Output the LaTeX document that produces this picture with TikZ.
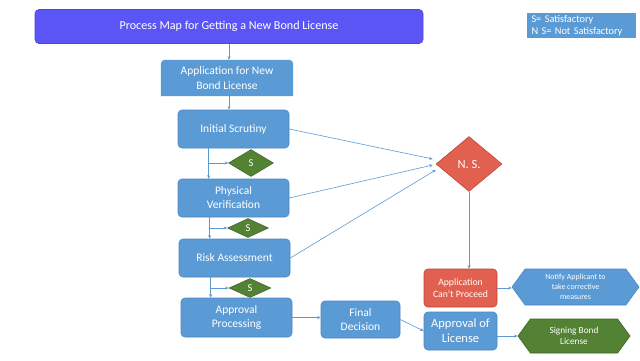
\documentclass[tikz,border=0pt]{standalone}
\usepackage{fontspec}
\setmainfont{Carlito}
\usetikzlibrary{shapes.geometric,shapes.symbols,arrows.meta,backgrounds,calc}
\definecolor{bblue}{HTML}{5B9BD5}
\definecolor{bblueD}{HTML}{4A86C2}
\definecolor{tpurple}{HTML}{5B55F5}
\definecolor{tpurpleD}{HTML}{4B45D8}
\definecolor{sgreen}{HTML}{548235}
\definecolor{sgreenD}{HTML}{3E6326}
\definecolor{nred}{HTML}{E2604F}
\definecolor{nredD}{HTML}{B5473A}
\definecolor{lineblue}{HTML}{5B9BD5}
\begin{document}
\begin{tikzpicture}[x=1pt,y=-1pt,
 box/.style={draw=bblueD, fill=bblue, rounded corners=4pt, text=white, align=center, inner sep=1pt, font=\fontsize{11.5}{14}\selectfont, line width=0.6pt},
 sdia/.style={diamond, draw=sgreenD, fill=sgreen, text=white, inner sep=0pt, font=\fontsize{10.5}{12}\selectfont, line width=0.5pt},
 conn/.style={draw=lineblue, line width=0.6pt, -{Stealth[length=3.5pt,width=3pt]}},
 hexa/.style={signal, signal to=east and west, signal pointer angle=108, inner sep=0pt, text=white, align=center, line width=0.6pt},
]
\begin{scope}[on background layer]
\fill[white] (0,0) rectangle (640,360);
\end{scope}
\useasboundingbox (0,0) rectangle (640,360);

% title and legend
\node[box, draw=tpurpleD, fill=tpurple, minimum width=388pt, minimum height=34pt, font=\fontsize{12.1}{14}\selectfont] (title) at (229,26.5) {Process Map for Getting a New Bond License};
\node[fill=bblue, text=white, align=left, inner sep=0pt, minimum width=109pt, minimum height=25pt, text width=100pt, font=\fontsize{10.3}{12}\selectfont] (legend) at (581.5,25.5) {S= Satisfactory\\N S= Not Satisfactory};

% main column
\node[text=white, align=center, inner sep=1pt, minimum width=132pt, minimum height=36pt, font=\fontsize{11.5}{15}\selectfont] (app) at (227,78) {Application for New\\Bond License};
\begin{scope}[on background layer]
\fill[bblue] (app.south west) [rounded corners=4pt] -- (app.north west) -- (app.north east) [sharp corners] -- (app.south east) -- cycle;
\end{scope}
\node[box, minimum width=111pt, minimum height=38pt] (is) at (233.5,129) {Initial Scrutiny};
\node[sdia, minimum width=45pt, minimum height=27pt] (s1) at (251,163) {S};
\node[box, minimum width=111pt, minimum height=38pt] (pv) at (233.5,198) {Physical\\Verification};
\node[sdia, minimum width=41pt, minimum height=19pt] (s2) at (248,228) {S};
\node[box, minimum width=111pt, minimum height=38pt] (ra) at (234.5,258) {Risk Assessment};
\node[sdia, minimum width=42pt, minimum height=19pt] (s3) at (250,288) {S};
\node[box, minimum width=111pt, minimum height=39pt] (ap) at (236.5,317.5) {Approval\\Processing};
\node[box, minimum width=79pt, minimum height=37pt] (fd) at (360.5,319.5) {Final\\Decision};

% right side
\node[diamond, draw=nredD, fill=nred, text=white, inner sep=0pt, minimum width=66pt, minimum height=55pt, font=\fontsize{12.5}{14}\selectfont, line width=0.5pt] (ns) at (469,164) {N. S.};
\node[box, draw=nredD, fill=nred, minimum width=73pt, minimum height=38pt, font=\fontsize{9.7}{12}\selectfont] (acp) at (460.5,288) {Application\\Can't Proceed};
\node[hexa, draw=bblueD, fill=bblue, minimum width=127pt, minimum height=36pt, font=\fontsize{7.9}{9.8}\selectfont] (notify) at (575.5,287) {Notify Applicant to\\take corrective\\measures};
\node[box, minimum width=73pt, minimum height=38pt, font=\fontsize{12.5}{15}\selectfont] (aol) at (460.5,331) {Approval of\\License};
\node[hexa, draw=sgreenD, fill=sgreen, minimum width=112pt, minimum height=34pt, font=\fontsize{9.3}{11.5}\selectfont] (sign) at (574,336) {Signing Bond\\License};

% connectors
\draw[conn] (title.south) -- (title.south |- app.north);
\draw[conn] (title.south |- app.south) -- (title.south |- is.north);

\coordinate (b1) at ([xshift=31pt]is.south west);
\draw[conn] (b1) -- (b1 |- pv.north);
\draw[conn] (b1 |- s1.west) -- (s1.west);
\coordinate (b2) at ([xshift=32pt]pv.south west);
\draw[conn] (b2) -- (b2 |- ra.north);
\draw[conn] (b2 |- s2.west) -- (s2.west);
\coordinate (b3) at ([xshift=32pt]ra.south west);
\draw[conn] (b3) -- (b3 |- ap.north);
\draw[conn] (b3 |- s3.west) -- (s3.west);

\draw[conn] (is.east) -- ([xshift=-3pt,yshift=5pt]ns.west);
\draw[conn] (pv.east) -- ([xshift=-3pt,yshift=-1pt]ns.west);
\draw[conn] (ra.east) -- ([xshift=0pt,yshift=-6pt]ns.west);
\draw[conn] (ns.south) -- (ns.south |- acp.north);
\draw[conn] (acp.east) -- (acp.east -| notify.west);
\draw[conn] (ap.east) -- (ap.east -| fd.west);
\draw[conn] (fd.east) -- (aol.west);
\draw[conn] (aol.east |- sign.west) -- (sign.west);
\end{tikzpicture}
\end{document}
